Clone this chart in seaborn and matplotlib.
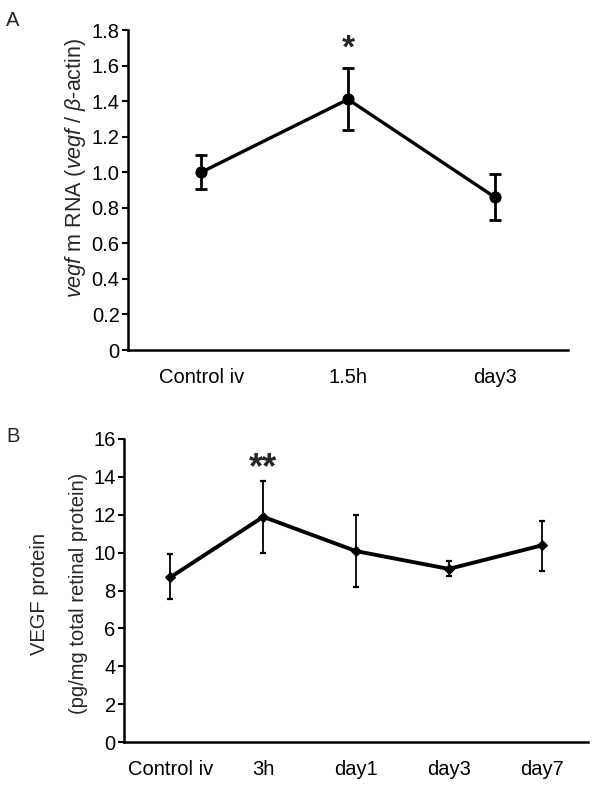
import matplotlib
matplotlib.use("Agg")
import matplotlib.pyplot as plt
import seaborn as sns
import pandas as pd
import numpy as np

# Panel A data
a_categories = ["Control iv", "1.5h", "day3"]
a_values = [1.00, 1.41, 0.86]
a_err_low = [0.095, 0.17, 0.13]
a_err_high = [0.095, 0.175, 0.13]
a_yticks = [0, 0.2, 0.4, 0.6, 0.8, 1.0, 1.2, 1.4, 1.6, 1.8]
a_yticklabels = ["0", "0.2", "0.4", "0.6", "0.8", "1.0", "1.2", "1.4", "1.6", "1.8"]

# Panel B data
b_categories = ["Control iv", "3h", "day1", "day3", "day7"]
b_values = [8.70, 11.89, 10.08, 9.14, 10.38]
b_err_low = [1.14, 1.89, 1.89, 0.40, 1.34]
b_err_high = [1.22, 1.91, 1.90, 0.43, 1.30]
b_yticks = [0, 2, 4, 6, 8, 10, 12, 14, 16]

sns.set_theme(style="ticks")
plt.rcParams["font.family"] = ["Liberation Sans", "DejaVu Sans"]
plt.rcParams["mathtext.fontset"] = "custom"
plt.rcParams["mathtext.rm"] = "Liberation Sans"
plt.rcParams["mathtext.it"] = "Liberation Sans:italic"
plt.rcParams["mathtext.bf"] = "Liberation Sans:bold"

FS = 14.5
fig = plt.figure(figsize=(6, 7.85), dpi=100)
axA = fig.add_axes([128/600, 1-350/785, 440/600, 320/785])
axB = fig.add_axes([124/600, 1-742/785, 464/600, 303/785])

# ---- Panel A
dfa = pd.DataFrame({"x": np.arange(len(a_categories)), "y": a_values})
sns.lineplot(data=dfa, x="x", y="y", ax=axA, color="black", lw=2.4,
             marker="o", markersize=8, markeredgecolor="black")
axA.errorbar(dfa["x"], dfa["y"], yerr=[a_err_low, a_err_high], fmt="none",
             ecolor="black", elinewidth=2.0, capsize=4, capthick=2.0)
axA.set_xlim(-0.5, len(a_categories) - 0.5)
axA.set_ylim(0, 1.8)
axA.set_yticks(a_yticks)
axA.set_yticklabels(a_yticklabels)
axA.set_xticks(dfa["x"])
axA.set_xticklabels(a_categories)
axA.set_xlabel("")
axA.set_ylabel(r"$\it{vegf}$ m RNA ($\it{vegf}$ / $\it{\beta}$-actin)", fontsize=15.5)
axA.yaxis.set_label_coords(-0.09, 0.57)
axA.text(1, 1.69, "*", ha="center", va="center", fontsize=24, fontweight="bold")

# ---- Panel B
dfb = pd.DataFrame({"x": np.arange(len(b_categories)), "y": b_values})
sns.lineplot(data=dfb, x="x", y="y", ax=axB, color="black", lw=2.8,
             marker="D", markersize=5, markeredgecolor="black")
axB.errorbar(dfb["x"], dfb["y"], yerr=[b_err_low, b_err_high], fmt="none",
             ecolor="black", elinewidth=1.3, capsize=2.5, capthick=1.6)
axB.set_xlim(-0.5, len(b_categories) - 0.5)
axB.set_ylim(0, 16)
axB.set_yticks(b_yticks)
axB.set_xticks(dfb["x"])
axB.set_xticklabels(b_categories)
axB.set_xlabel("")
axB.set_ylabel("VEGF protein\n(pg/mg total retinal protein)", fontsize=FS, linespacing=2.3)
axB.yaxis.set_label_coords(-0.078, 0.49)
axB.text(1, 14.45, "**", ha="center", va="center", fontsize=26, fontweight="bold")

for ax in (axA, axB):
    sns.despine(ax=ax)
    for s in ("left", "bottom"):
        ax.spines[s].set_linewidth(1.8)
        ax.spines[s].set_color("black")
    ax.tick_params(axis="y", direction="out", length=4, width=1.5, labelsize=FS, pad=2, colors="black")
    ax.tick_params(axis="x", length=0, labelsize=FS, pad=13, colors="black")

fig.text(13/600, 1-20/785, "A", fontsize=FS, ha="center", va="center")
fig.text(13/600, 1-436/785, "B", fontsize=FS, ha="center", va="center")

fig.savefig("out.png", dpi=100, facecolor="white")
